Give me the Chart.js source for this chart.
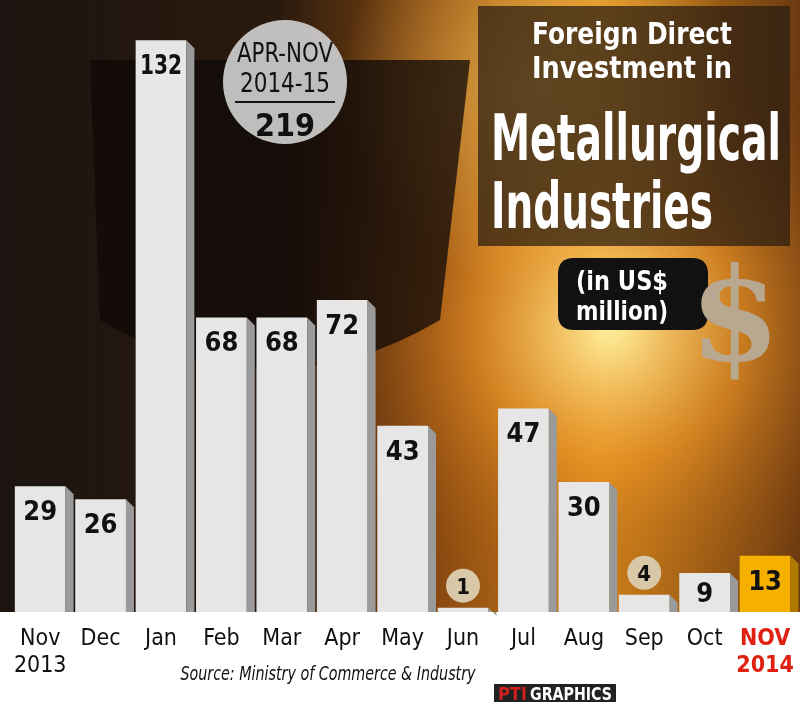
<!DOCTYPE html>
<html>
<head>
<meta charset="utf-8">
<script src="https://cdn.jsdelivr.net/npm/chart.js@4"></script>
<style>
  html, body { margin: 0; padding: 0; background: #fff; }
  #wrap { position: relative; width: 800px; height: 704px; }
  canvas { position: absolute; left: 0; top: 0; }
</style>
</head>
<body>
<div id="wrap"><canvas id="fdi" width="800" height="704"></canvas></div>
<script>
// 数据：月度外商直接投资（百万美元）
var MONTHS = [['Nov', '2013'], 'Dec', 'Jan', 'Feb', 'Mar', 'Apr', 'May', 'Jun', 'Jul', 'Aug', 'Sep', 'Oct', ['NOV', '2014']];
var VALUES = [29, 26, 132, 68, 68, 72, 43, 1, 47, 30, 4, 9, 13];
var HIGHLIGHT = 12;

var FONT = '"Liberation Sans Narrow", "DejaVu Sans Condensed", "Liberation Sans", sans-serif';

// 按宽度压缩绘制文字，模拟窄体字
function fitText(c, text, x, y, maxW) {
    var w = c.measureText(text).width;
    var s = w > maxW ? maxW / w : 1;
    c.save();
    c.translate(x, y);
    c.scale(s, 1);
    c.fillText(text, 0, 0);
    c.restore();
}

// 背景：模拟炼钢车间的暗色+橙色光晕
var backdrop = {
    id: 'backdrop',
    beforeDraw: function (chart) {
        var c = chart.ctx, bottom = chart.chartArea.bottom;
        c.save();
        c.fillStyle = '#fff';
        c.fillRect(0, 0, 800, 704);
        var g = c.createLinearGradient(0, 0, 800, 0);
        g.addColorStop(0, '#1c1410');
        g.addColorStop(0.35, '#2a1a0e');
        g.addColorStop(0.55, '#8a4a10');
        g.addColorStop(0.75, '#d98a1a');
        g.addColorStop(1, '#6a3a10');
        c.fillStyle = g;
        c.fillRect(0, 0, 800, bottom);
        var r = c.createRadialGradient(610, 330, 10, 610, 330, 320);
        r.addColorStop(0, 'rgba(255,235,150,0.95)');
        r.addColorStop(0.4, 'rgba(240,150,40,0.6)');
        r.addColorStop(1, 'rgba(120,50,10,0)');
        c.fillStyle = r;
        c.fillRect(0, 0, 800, bottom);
        var r2 = c.createRadialGradient(540, 90, 5, 540, 90, 200);
        r2.addColorStop(0, 'rgba(255,200,90,0.7)');
        r2.addColorStop(1, 'rgba(255,200,90,0)');
        c.fillStyle = r2;
        c.fillRect(0, 0, 800, bottom);
        // 钢包剪影
        c.fillStyle = 'rgba(15,10,8,0.75)';
        c.beginPath();
        c.moveTo(90, 60); c.lineTo(470, 60); c.lineTo(440, 320);
        c.quadraticCurveTo(270, 420, 100, 320); c.closePath();
        c.fill();
        c.restore();
    },
    afterDraw: function (chart) {
        var c = chart.ctx;
        c.save();
        // 标题框
        c.fillStyle = 'rgba(40,28,18,0.72)';
        c.fillRect(478, 6, 312, 240);
        c.fillStyle = '#fff';
        c.textAlign = 'center';
        c.textBaseline = 'alphabetic';
        c.font = 'bold 30px ' + FONT;
        fitText(c, 'Foreign Direct', 632, 44, 200);
        fitText(c, 'Investment in', 632, 78, 200);
        c.font = 'bold 64px ' + FONT;
        fitText(c, 'Metallurgical', 636, 160, 290);
        fitText(c, 'Industries', 602, 228, 222);
        // 单位标签
        c.fillStyle = '#111';
        roundRect(c, 558, 258, 150, 72, 16);
        c.fill();
        c.fillStyle = '#fff';
        c.font = 'bold 26px ' + FONT;
        fitText(c, '(in US$', 622, 290, 92);
        fitText(c, 'million)', 622, 320, 92);
        // 美元符号
        c.font = 'bold 130px "DejaVu Serif", serif';
        c.fillStyle = '#b8a890';
        c.fillText('$', 735, 360);
        // 汇总圆
        c.beginPath();
        c.arc(285, 82, 62, 0, Math.PI * 2);
        c.fillStyle = 'rgba(205,205,205,0.92)';
        c.fill();
        c.fillStyle = '#111';
        c.font = '26px ' + FONT;
        fitText(c, 'APR-NOV', 285, 62, 96);
        fitText(c, '2014-15', 285, 92, 90);
        c.fillRect(235, 101, 100, 2);
        c.font = 'bold 32px ' + FONT;
        c.fillText('219', 285, 136);
        // 来源与署名
        c.font = 'italic 20px ' + FONT;
        c.fillStyle = '#111';
        fitText(c, 'Source: Ministry of Commerce & Industry', 328, 680, 295);
        c.fillStyle = '#222';
        c.fillRect(494, 684, 122, 18);
        c.font = 'bold 18px ' + FONT;
        c.fillStyle = '#d02020';
        c.textAlign = 'left';
        c.fillText('PTI', 498, 700);
        c.fillStyle = '#fff';
        fitText(c, 'GRAPHICS', 530, 700, 82);
        c.restore();
    }
};

function roundRect(c, x, y, w, h, r) {
    c.beginPath();
    c.moveTo(x + r, y); c.lineTo(x + w - r, y); c.quadraticCurveTo(x + w, y, x + w, y + r);
    c.lineTo(x + w, y + h - r); c.quadraticCurveTo(x + w, y + h, x + w - r, y + h);
    c.lineTo(x + r, y + h); c.quadraticCurveTo(x, y + h, x, y + h - r);
    c.lineTo(x, y + r); c.quadraticCurveTo(x, y, x + r, y); c.closePath();
}

// 立体侧面与数值标签
var bar3d = {
    id: 'bar3d',
    afterDatasetsDraw: function (chart) {
        var c = chart.ctx;
        var meta = chart.getDatasetMeta(0);
        c.save();
        meta.data.forEach(function (bar, i) {
            var p = bar.getProps(['x', 'y', 'base', 'width'], true);
            var right = p.x + p.width / 2, d = 8;
            c.fillStyle = i === HIGHLIGHT ? '#b07a00' : '#9a9a9a';
            c.beginPath();
            c.moveTo(right, p.y); c.lineTo(right + d, p.y + d);
            c.lineTo(right + d, p.base); c.lineTo(right, p.base); c.closePath();
            c.fill();
            c.textAlign = 'center';
            c.font = 'bold 27px ' + FONT;
            var v = VALUES[i];
            if (v <= 5) {
                c.beginPath();
                c.arc(p.x, p.y - 22, 17, 0, Math.PI * 2);
                c.fillStyle = '#d8c8a8';
                c.fill();
                c.fillStyle = '#111';
                c.font = 'bold 22px ' + FONT;
                c.fillText(String(v), p.x, p.y - 14);
            } else {
                c.fillStyle = '#111';
                var ty = p.base - p.y < 50 ? p.base - 10 : p.y + 34;
                fitText(c, String(v), p.x, ty, 42);
            }
        });
        c.restore();
    }
};

var colors = VALUES.map(function (v, i) { return i === HIGHLIGHT ? '#f5b000' : '#e6e6e6'; });

new Chart(document.getElementById('fdi'), {
    type: 'bar',
    data: {
        labels: MONTHS,
        datasets: [{
            data: VALUES,
            backgroundColor: colors,
            borderWidth: 0,
            barPercentage: 0.84,
            categoryPercentage: 1
        }]
    },
    options: {
        responsive: false,
        animation: false,
        layout: { padding: { left: 10, right: 4, top: 12, bottom: 0 } },
        plugins: { legend: { display: false }, tooltip: { enabled: false } },
        scales: {
            y: { display: false, min: 0, max: 138.5 },
            x: {
                grid: { display: false },
                border: { display: false },
                afterFit: function (s) { s.height = 92; },
                ticks: {
                    maxRotation: 0,
                    autoSkip: false,
                    padding: 6,
                    font: function (ctx) {
                        return { family: FONT, size: 23, weight: ctx.index === HIGHLIGHT ? 'bold' : 'normal', lineHeight: 1.15 };
                    },
                    color: function (ctx) { return ctx.index === HIGHLIGHT ? '#e02010' : '#111'; }
                }
            }
        }
    },
    plugins: [backdrop, bar3d]
});
</script>
</body>
</html>
